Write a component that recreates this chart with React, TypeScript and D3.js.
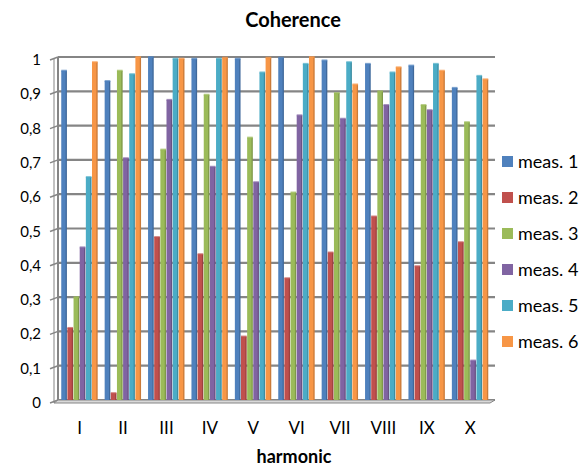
import React from "react";
import * as d3 from "d3";

const categories = ["I", "II", "III", "IV", "V", "VI", "VII", "VIII", "IX", "X"];
const seriesNames = ["meas. 1", "meas. 2", "meas. 3", "meas. 4", "meas. 5", "meas. 6"];
const meas1 = [0.96, 0.93, 1.0, 0.995, 0.995, 0.998, 0.99, 0.98, 0.975, 0.91];
const meas2 = [0.21, 0.02, 0.475, 0.425, 0.185, 0.355, 0.43, 0.535, 0.39, 0.46];
const meas3 = [0.3, 0.96, 0.73, 0.89, 0.765, 0.605, 0.895, 0.9, 0.86, 0.81];
const meas4 = [0.445, 0.705, 0.875, 0.68, 0.635, 0.83, 0.82, 0.86, 0.845, 0.115];
const meas5 = [0.65, 0.95, 0.995, 0.995, 0.955, 0.98, 0.985, 0.955, 0.98, 0.945];
const meas6 = [0.985, 1.0, 0.995, 0.998, 0.998, 1.0, 0.92, 0.97, 0.96, 0.935];
const seriesValues = [meas1, meas2, meas3, meas4, meas5, meas6];
const colors = ["#4F81BD", "#C0504D", "#9BBB59", "#8064A2", "#4BACC6", "#F79646"];
const yTicks = [0, 0.1, 0.2, 0.3, 0.4, 0.5, 0.6, 0.7, 0.8, 0.9, 1];

const font = "Lato, 'Open Sans', sans-serif";

export default function App() {
  const W = 588, H = 470;
  const left = 58, right = 492, top = 57, bottom = 400;
  const x = d3.scaleBand<string>().domain(categories).range([left, right]).paddingInner(0.15).paddingOuter(0.075);
  const xs = d3.scaleBand<string>().domain(seriesNames).range([0, x.bandwidth()]).padding(0);
  const y = d3.scaleLinear().domain([0, 1]).range([bottom, top]);
  const fmt = (v: number) => (v === 0 ? "0" : v === 1 ? "1" : d3.format(".1f")(v).replace(".", ","));

  return (
    <svg width={W} height={H} style={{ display: "block", position: "absolute", left: 0, top: 0 }}>
      <rect width={W} height={H} fill="#fff" />
      <text x={293} y={27} textAnchor="middle" fontFamily={font} fontWeight="bold" fontSize={20} fill="#000">Coherence</text>
      {/* grid */}
      {yTicks.map((t) => (
        <g key={t}>
          <line x1={left} x2={right + 3} y1={y(t)} y2={y(t)} stroke="#858585" strokeWidth={2.2} />
          <line x1={left - 8} x2={left} y1={y(t) + 3} y2={y(t)} stroke="#858585" strokeWidth={1.5} />
          <text x={41} y={y(t) + 8} textAnchor="end" fontFamily={font} fontSize={15} fill="#000">{fmt(t)}</text>
        </g>
      ))}
      <line x1={left} x2={left} y1={top} y2={bottom} stroke="#858585" strokeWidth={2} />
      <line x1={left - 4} x2={left - 4} y1={top + 2} y2={bottom + 3} stroke="#858585" strokeWidth={1} />
      {/* floor */}
      <path d={`M${left - 4},${bottom + 3} L${right - 2},${bottom + 3} L${right + 3},${bottom} L${left},${bottom} Z`} fill="#d9d9d9" stroke="#858585" strokeWidth={1} />
      {/* bars */}
      {categories.map((c, i) => (
        <g key={c}>
          {seriesNames.map((s, j) => {
            const v = seriesValues[j][i];
            const bx = (x(c) as number) + (xs(s) as number);
            const bw = xs.bandwidth();
            return (
              <g key={s}>
                <rect x={bx} y={y(v)} width={bw - 0.5} height={bottom - y(v)} fill={colors[j]} />
                <rect x={bx + bw - 1.8} y={y(v)} width={1.3} height={bottom - y(v)} fill="#000" opacity={0.18} />
                <rect x={bx} y={y(v) - 1} width={bw - 0.5} height={2} fill={colors[j]} opacity={0.7} />
              </g>
            );
          })}
          <text x={(x(c) as number) + x.bandwidth() / 2} y={434} textAnchor="middle" fontFamily={font} fontSize={17} fill="#000">{c}</text>
        </g>
      ))}
      <text x={294} y={463} textAnchor="middle" fontFamily={font} fontWeight="bold" fontSize={18} fill="#000">harmonic</text>
      {/* legend */}
      {seriesNames.map((s, j) => (
        <g key={s}>
          <rect x={502} y={156 + j * 36} width={11} height={11} fill={colors[j]} />
          <text x={518} y={168 + j * 36} fontFamily={font} fontSize={18} fill="#000">{s}</text>
        </g>
      ))}
    </svg>
  );
}
